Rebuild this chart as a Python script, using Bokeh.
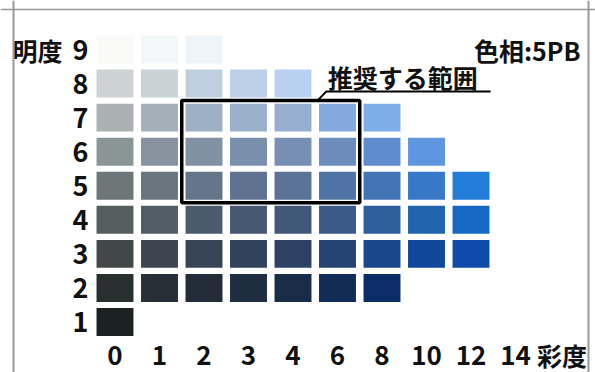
from bokeh.plotting import figure
from bokeh.models import Range1d, ColumnDataSource, Span
from bokeh.core.properties import value
from bokeh.embed import file_html
from bokeh.resources import INLINE

# ---- data ----
chroma_labels = ["0", "1", "2", "3", "4", "6", "8", "10", "12", "14"]
value_labels = ["9", "8", "7", "6", "5", "4", "3", "2", "1"]
value_levels = [9, 8, 7, 6, 5, 4, 3, 2, 1]

colors_v9 = ["#fafaf8", "#f4f7f8", "#eef4f8"]
colors_v8 = ["#cdd3d3", "#c8d2d7", "#bfcfe0", "#bccfe7", "#b8d1f0"]
colors_v7 = ["#a9b2b0", "#a4b0b8", "#9eb0c3", "#9ab0cb", "#96afd0", "#84a9dc", "#7eaeea"]
colors_v6 = ["#8a9595", "#87939e", "#8091a3", "#7a8fab", "#768fb3", "#6c8cbe", "#5f8ccd", "#5e96e0"]
colors_v5 = ["#6d7777", "#697680", "#64758a", "#5f7390", "#5a7397", "#5073a5", "#4273b5", "#3778c8", "#237dd8"]
colors_v4 = ["#555f5f", "#515c65", "#4b5a6c", "#475873", "#425879", "#3c5a87", "#2e5f9c", "#2364ae", "#1569c3"]
colors_v3 = ["#414848", "#3d464e", "#374455", "#33425c", "#2d4164", "#234473", "#19468c", "#10479b", "#0f4bab"]
colors_v2 = ["#283030", "#262f35", "#232d3a", "#1f2d41", "#1a2d48", "#112d55", "#0c2d68"]
colors_v1 = ["#1c2121"]
row_colors = [colors_v9, colors_v8, colors_v7, colors_v6, colors_v5,
              colors_v4, colors_v3, colors_v2, colors_v1]

axis_title_value = "明度"
axis_title_chroma = "彩度"
hue_label = "色相:5PB"
range_label = "推奨する範囲"
range_chroma = ["2", "6"]   # recommended chroma range
range_values = [5, 7]       # recommended value range

# ---- build cells ----
xs, ys, cs = [], [], []
for v, cols in zip(value_levels, row_colors):
    for i, c in enumerate(cols):
        xs.append(i)
        ys.append(v)
        cs.append(c)
cells = ColumnDataSource(dict(x=xs, y=ys, color=cs))

px_x = 44.5
px_y = 34.06
W, H = 595, 372
x0 = -114.5 / px_x
y1 = 9 + 49 / px_y

p = figure(width=W, height=H, output_backend="svg", toolbar_location=None,
           x_axis_location=None, y_axis_location=None,
           x_range=Range1d(x0, x0 + W / px_x), y_range=Range1d(y1 - H / px_y, y1),
           min_border=0, outline_line_color=None, background_fill_color="white",
           border_fill_color="white")
p.grid.visible = False

p.rect(x="x", y="y", width=0.83, height=0.82, fill_color="color",
       line_color=None, source=cells)

font = value("Noto Sans CJK JP")
# value tick labels
p.text(x=[-0.416] * len(value_labels), y=value_levels, text=value_labels,
       text_font=font, text_font_style="bold", text_font_size="27px",
       text_align="right", text_baseline="middle", x_offset=-8, text_color="#111111")
p.text(x=[-0.416], y=[value_levels[0]], text=[axis_title_value],
       text_font=font, text_font_style="bold", text_font_size="25px",
       text_align="right", text_baseline="middle", x_offset=-34, text_color="#111111")
# chroma tick labels
p.text(x=list(range(len(chroma_labels))), y=[0] * len(chroma_labels), text=chroma_labels,
       text_font=font, text_font_style="bold", text_font_size="26px",
       text_align="center", text_baseline="middle", y_offset=-1, text_color="#111111")
p.text(x=[len(chroma_labels)], y=[0], text=[axis_title_chroma],
       text_font=font, text_font_style="bold", text_font_size="25px",
       text_align="center", text_baseline="middle", x_offset=2, y_offset=-1,
       text_color="#111111")
# hue
p.text(x=[10.46], y=[value_levels[0]], text=[hue_label],
       text_font=font, text_font_style="bold", text_font_size="25px",
       text_align="right", text_baseline="middle", text_color="#111111")

# recommended range box
ci0 = chroma_labels.index(range_chroma[0])
ci1 = chroma_labels.index(range_chroma[1])
p.quad(left=[ci0 - 0.5], right=[ci1 + 0.5], bottom=[range_values[0] - 0.5],
       top=[range_values[1] + 0.5], fill_color=None, line_color="#000000", line_width=3.5)
# leader line and label
p.line(x=[4.55, 4.75, 8.44], y=[range_values[1] + 0.5, 7.77, 7.77],
       line_color="#000000", line_width=2)
p.text(x=[4.78], y=[8.2], text=[range_label],
       text_font=font, text_font_style="bold", text_font_size="25px",
       text_align="left", text_baseline="middle", text_color="#111111")

# scan frame
p.add_layout(Span(location=(13 - 114.5) / px_x, dimension="height",
                  line_color="#999999", line_width=2))
p.add_layout(Span(location=(588 - 114.5) / px_x, dimension="height",
                  line_color="#999999", line_width=2))
p.add_layout(Span(location=y1 - 9 / px_y, dimension="width",
                  line_color="#999999", line_width=1.5))

open("out.html", "w").write(file_html(p, INLINE))
